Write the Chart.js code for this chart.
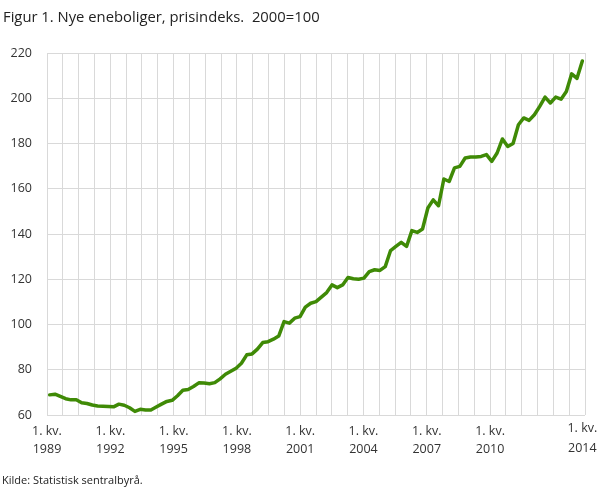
<!DOCTYPE html>
<html>
<head>
<meta charset="utf-8">
<script src="https://cdn.jsdelivr.net/npm/chart.js@4"></script>
<style>
  body { margin: 0; background: #fff; font-family: "Open Sans", sans-serif; color: #222; }
  #wrap { position: relative; width: 609px; height: 489px; }
  #title { position: absolute; left: 3px; top: 6px; font-size: 14.8px; white-space: pre; }
  #src { position: absolute; left: 2px; top: 472px; font-size: 11px; }
  canvas { position: absolute; left: 0; top: 0; }
</style>
</head>
<body>
<div id="wrap">
  <canvas id="chart" width="609" height="489"></canvas>
  <div id="title">Figur 1. Nye eneboliger, prisindeks.  2000=100</div>
  <div id="src">Kilde: Statistisk sentralbyrå.</div>
</div>
<script>
// quarterly price index, 1. kv. 1989 - 1. kv. 2014
const priceIndex = [
  68.9, 69.2, 68.2, 67.2, 66.7, 66.7, 65.4, 65.1, 64.4, 64.0,
  63.9, 63.8, 63.6, 64.8, 64.3, 63.2, 61.6, 62.5, 62.2, 62.2,
  63.5, 64.8, 66.0, 66.5, 68.5, 70.9, 71.3, 72.6, 74.2, 74.1,
  73.8, 74.3, 76.0, 78.0, 79.3, 80.7, 82.9, 86.6, 87.0, 89.1,
  92.0, 92.4, 93.5, 94.9, 101.3, 100.6, 102.8, 103.5, 107.7, 109.4,
  110.1, 112.1, 114.1, 117.5, 116.3, 117.5, 120.8, 120.2, 120.0, 120.5,
  123.4, 124.2, 123.9, 125.6, 132.7, 134.5, 136.3, 134.5, 141.5, 140.7,
  142.2, 151.5, 155.1, 152.5, 164.3, 163.2, 169.2, 169.9, 173.6, 174.0,
  174.0, 174.3, 175.1, 172.1, 175.8, 182.0, 178.7, 180.0, 188.3, 191.3,
  190.2, 192.7, 196.4, 200.5, 197.9, 200.5, 199.6, 203.0, 210.8, 208.8,
  216.5
];
const labelYears = [1989, 1992, 1995, 1998, 2001, 2004, 2007, 2010];
const lastYear = 2014;
const yMin = 60, yMax = 220, yStep = 20;

const gridCount = 34;
const fontFamily = '"Open Sans", sans-serif';

new Chart(document.getElementById('chart'), {
  type: 'line',
  data: {
    datasets: [{
      data: priceIndex.map((v, i) => ({ x: i, y: v })),
      borderColor: '#3f8a06',
      borderWidth: 3.5,
      pointRadius: 0,
      tension: 0,
      borderJoinStyle: 'round',
      borderCapStyle: 'round'
    }]
  },
  options: {
    responsive: false,
    animation: false,
    layout: { padding: { top: 53, right: 24, bottom: 0, left: 0 } },
    plugins: { legend: { display: false }, tooltip: { enabled: false } },
    scales: {
      x: {
        type: 'linear',
        min: -0.5,
        max: priceIndex.length - 0.5,
        afterBuildTicks: scale => {
          const span = priceIndex.length;
          const ticks = [];
          for (let k = 0; k <= gridCount; k++) {
            let lbl = '';
            if (k % 4 === 0 && k / 4 < labelYears.length) lbl = ['1. kv.', String(labelYears[k / 4])];
            ticks.push({ value: -0.5 + k * span / gridCount, lbl: lbl });
          }
          ticks.push({ value: priceIndex.length - 1, lbl: ['1. kv.', String(lastYear)], last: true });
          ticks.sort((a, b) => a.value - b.value);
          scale.ticks = ticks;
        },
        afterFit: scale => { scale.height = 74; },
        ticks: {
          autoSkip: false,
          maxRotation: 0,
          crossAlign: 'far',
          padding: 13.5,
          color: '#333',
          // the last label sits a little higher, as in the original
          font: ctx => ({
            family: fontFamily,
            size: 12.5,
            lineHeight: (ctx.tick && ctx.tick.last) ? '19.5px' : '18px'
          }),
          callback: (v, i, t) => t[i].lbl
        },
        grid: {
          color: ctx => (ctx.tick && ctx.tick.last) ? 'rgba(0,0,0,0)' : '#d9d9d9',
          drawTicks: false
        },
        border: { display: false }
      },
      y: {
        min: yMin,
        max: yMax,
        afterFit: scale => { scale.width = 47; },
        ticks: { stepSize: yStep, padding: 15, color: '#333', font: { family: fontFamily, size: 12.5 } },
        grid: { color: '#d9d9d9', drawTicks: false },
        border: { display: false }
      }
    }
  }
});
</script>
</body>
</html>
